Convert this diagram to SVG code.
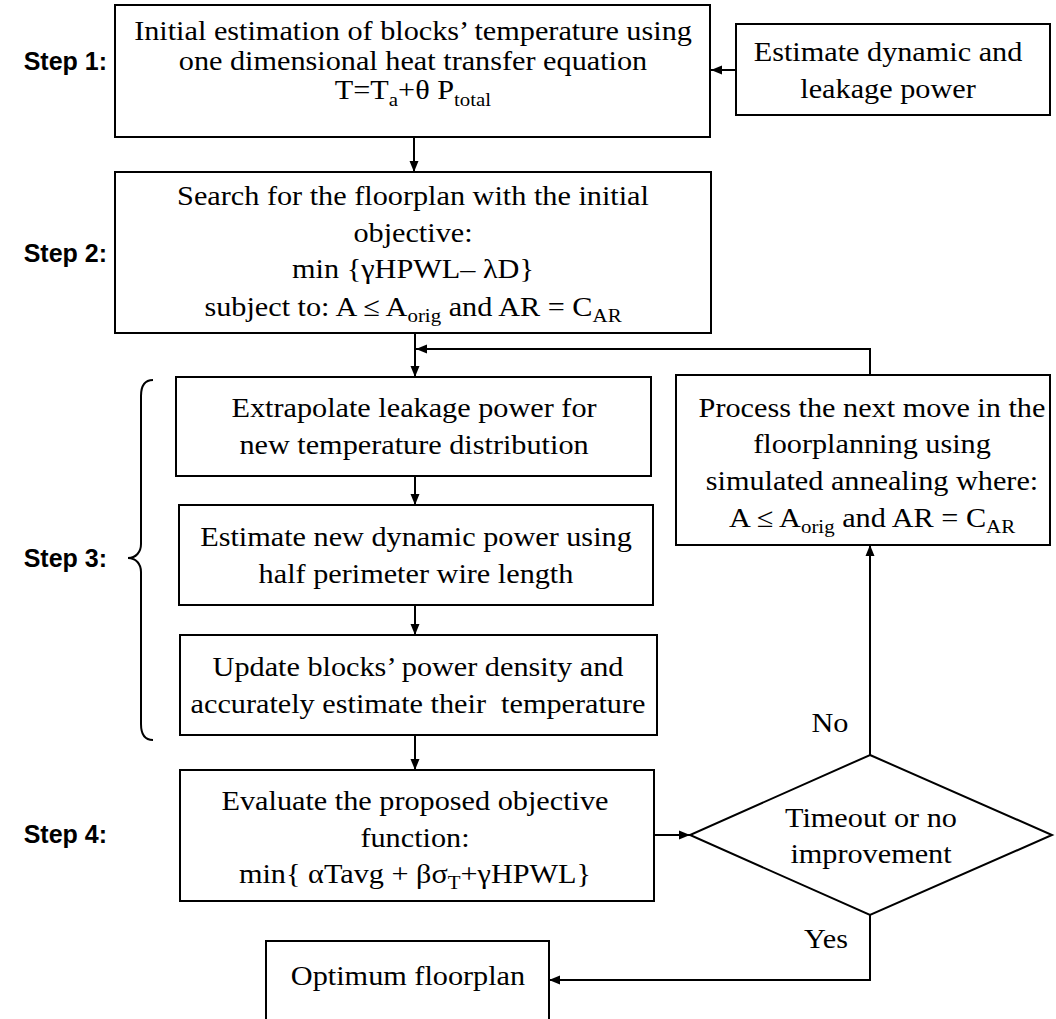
<svg xmlns="http://www.w3.org/2000/svg" width="1056" height="1019" viewBox="0 0 1056 1019">
  <style>
    .box { fill: #fff; stroke: #000; stroke-width: 2; }
    .t { font-family: "Liberation Serif", "Times New Roman", serif; font-size: 27.5px; text-anchor: middle; fill: #000; }
    .sub { font-size: 19px; }
    .step { font-family: "Liberation Sans", Arial, sans-serif; font-weight: bold; font-size: 25px; text-anchor: end; fill: #000; }
    .wire { fill: none; stroke: #000; stroke-width: 2; }
  </style>
  <defs>
    <marker id="arrow" markerWidth="12" markerHeight="10" refX="11" refY="5" orient="auto" markerUnits="userSpaceOnUse">
      <path d="M0,0.5 L11,5 L0,9.5 z" fill="#000"/>
    </marker>
  </defs>
  <rect width="1056" height="1019" fill="#fff"/>

  <!-- step labels and brace -->
  <g id="step-labels">
    <text class="step" x="107" y="70">Step 1:</text>
    <text class="step" x="107" y="262">Step 2:</text>
    <text class="step" x="107" y="567">Step 3:</text>
    <text class="step" x="107" y="843">Step 4:</text>
    <path class="wire" stroke-width="1.8" d="M153,380 C145,380 141,386 141,396 L141,544 C141,552 136,558 128,558 C136,558 141,564 141,572 L141,724 C141,734 145,740 153,740"/>
  </g>

  <!-- Step 1 -->
  <g id="initial-estimation">
    <rect class="box" x="115" y="5" width="595" height="132"/>
    <text class="t" transform="translate(413,40) scale(1.1,1)">Initial estimation of blocks’ temperature using</text>
    <text class="t" transform="translate(413,70) scale(1.1,1)">one dimensional heat transfer equation</text>
    <text class="t" transform="translate(413,99) scale(1.1,1)">T=T<tspan class="sub" dy="7">a</tspan><tspan dy="-7">+θ P</tspan><tspan class="sub" dy="7">total</tspan></text>
  </g>

  <g id="estimate-power">
    <rect class="box" x="736" y="24" width="314" height="91"/>
    <text class="t" transform="translate(888,61) scale(1.1,1)">Estimate dynamic and</text>
    <text class="t" transform="translate(888,98) scale(1.1,1)">leakage power</text>
  </g>

  <!-- Step 2 -->
  <g id="initial-search">
    <rect class="box" x="115" y="172" width="596" height="161"/>
    <text class="t" transform="translate(413,205) scale(1.1,1)">Search for the floorplan with the initial</text>
    <text class="t" transform="translate(413,242) scale(1.1,1)">objective:</text>
    <text class="t" transform="translate(413,278) scale(1.1,1)">min {γHPWL– λD}</text>
    <text class="t" transform="translate(413,316) scale(1.1,1)">subject to: A ≤ A<tspan class="sub" dy="6">orig</tspan><tspan dy="-6"> and AR = C</tspan><tspan class="sub" dy="6">AR</tspan></text>
  </g>

  <!-- Step 3 -->
  <g id="extrapolate-leakage">
    <rect class="box" x="176" y="377" width="475" height="99"/>
    <text class="t" transform="translate(414,417) scale(1.1,1)">Extrapolate leakage power for</text>
    <text class="t" transform="translate(414,454) scale(1.1,1)">new temperature distribution</text>
  </g>

  <g id="estimate-dynamic">
    <rect class="box" x="179" y="505" width="474" height="100"/>
    <text class="t" transform="translate(416,546) scale(1.1,1)">Estimate new dynamic power using</text>
    <text class="t" transform="translate(416,583) scale(1.1,1)">half perimeter wire length</text>
  </g>

  <g id="update-density">
    <rect class="box" x="180" y="635" width="477" height="100"/>
    <text class="t" transform="translate(418,676) scale(1.1,1)">Update blocks’ power density and</text>
    <text class="t" transform="translate(418,713) scale(1.1,1)">accurately estimate their&#160; temperature</text>
  </g>

  <!-- Step 4 -->
  <g id="evaluate-objective">
    <rect class="box" x="180" y="770" width="474" height="131"/>
    <text class="t" transform="translate(415,810) scale(1.1,1)">Evaluate the proposed objective</text>
    <text class="t" transform="translate(415,847) scale(1.1,1)">function:</text>
    <text class="t" transform="translate(415,883) scale(1.1,1)">min{ αTavg + βσ<tspan class="sub" dy="6">T</tspan><tspan dy="-6">+γHPWL}</tspan></text>
  </g>

  <g id="stop-decision">
    <path class="box" d="M870,755 L1052,835 L870,915 L690,835 z"/>
    <text class="t" transform="translate(871,827) scale(1.1,1)">Timeout or no</text>
    <text class="t" transform="translate(871,863) scale(1.1,1)">improvement</text>
  </g>

  <g id="next-move">
    <rect class="box" x="676" y="375" width="374" height="170"/>
    <text class="t" transform="translate(872,417) scale(1.1,1)">Process the next move in the</text>
    <text class="t" transform="translate(872,453) scale(1.1,1)">floorplanning using</text>
    <text class="t" transform="translate(872,490) scale(1.1,1)">simulated annealing where:</text>
    <text class="t" transform="translate(872,527) scale(1.1,1)">A ≤ A<tspan class="sub" dy="6">orig</tspan><tspan dy="-6"> and AR = C</tspan><tspan class="sub" dy="6">AR</tspan></text>
  </g>

  <g id="optimum-floorplan">
    <rect class="box" x="266" y="941" width="283" height="100"/>
    <text class="t" transform="translate(408,985) scale(1.1,1)">Optimum floorplan</text>
  </g>

  <!-- connectors -->
  <g id="connectors">
    <path class="wire" d="M736,70 H711" marker-end="url(#arrow)"/>
    <path class="wire" d="M414,137 V172" marker-end="url(#arrow)"/>
    <path class="wire" d="M415,333 V377" marker-end="url(#arrow)"/>
    <path class="wire" d="M870,375 V349 H416" marker-end="url(#arrow)"/>
    <path class="wire" d="M415,476 V505" marker-end="url(#arrow)"/>
    <path class="wire" d="M415,605 V635" marker-end="url(#arrow)"/>
    <path class="wire" d="M415,735 V770" marker-end="url(#arrow)"/>
    <path class="wire" d="M654,835 H690" marker-end="url(#arrow)"/>
    <path class="wire" d="M870,755 V545" marker-end="url(#arrow)"/>
    <path class="wire" d="M870,915 V980 H549" marker-end="url(#arrow)"/>
    <text class="t" transform="translate(830,732) scale(1.1,1)">No</text>
    <text class="t" transform="translate(826,948) scale(1.1,1)">Yes</text>
  </g>
</svg>
